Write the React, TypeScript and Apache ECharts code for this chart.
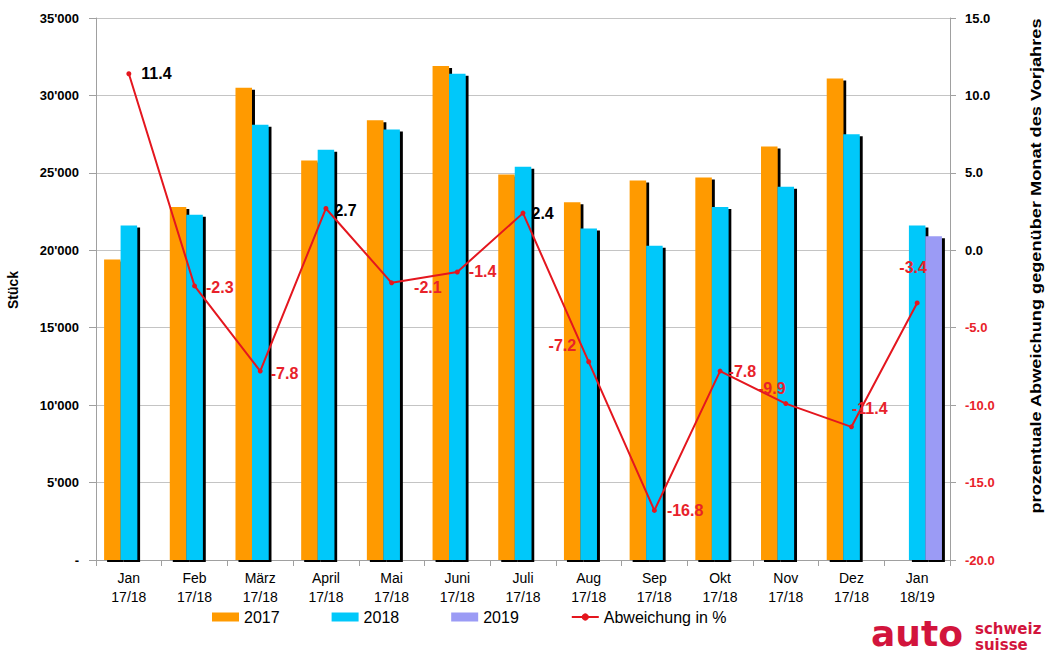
import React, { useEffect, useRef } from "react";
import * as echarts from "echarts";

const categories = [
  "Jan\n17/18", "Feb\n17/18", "März\n17/18", "April\n17/18", "Mai\n17/18", "Juni\n17/18",
  "Juli\n17/18", "Aug\n17/18", "Sep\n17/18", "Okt\n17/18", "Nov\n17/18", "Dez\n17/18", "Jan\n18/19",
];
const values2017 = [19400, 22800, 30500, 25800, 28400, 31900, 24900, 23100, 24500, 24700, 26700, 31100, null];
const values2018 = [21600, 22300, 28100, 26500, 27800, 31400, 25400, 21400, 20300, 22800, 24100, 27500, 21600];
const values2019 = [null, null, null, null, null, null, null, null, null, null, null, null, 20900];
const deviation = [11.4, -2.3, -7.8, 2.7, -2.1, -1.4, 2.4, -7.2, -16.8, -7.8, -9.9, -11.4, -3.4];
const leftTicks = { min: 0, max: 35000, interval: 5000 };
const rightTicks = { min: -20, max: 15, interval: 5 };

const FONT = "Liberation Sans, Arial, sans-serif";

// label placement tweaks per point (style only)
const labelPlacement: any[] = [
  { position: "right", distance: 10, offset: [0, 0] },
  { position: "right", distance: 9, offset: [0, 2] },
  { position: "right", distance: 8, offset: [0, 2] },
  { position: "right", distance: 6, offset: [0, 2] },
  { position: "right", distance: 20, offset: [0, 5] },
  { position: "right", distance: 9, offset: [0, 0] },
  { position: "right", distance: 6, offset: [0, 0] },
  { position: "left", distance: 10, offset: [0, -16] },
  { position: "right", distance: 10, offset: [0, 0] },
  { position: "right", distance: 6, offset: [0, 0] },
  { position: "top", distance: 5, offset: [-14, 0] },
  { position: "right", distance: 5, offset: [-7, -18] },
  { position: "top", distance: 25, offset: [-4, 0] },
];

const shadow = { shadowColor: "#000", shadowBlur: 0, shadowOffsetX: 3, shadowOffsetY: 2 };

export default function App() {
  const ref = useRef<HTMLDivElement>(null);
  useEffect(() => {
    if (!ref.current) return;
    const chart = echarts.init(ref.current, undefined, { renderer: "svg" });
    chart.setOption({
      animation: false,
      backgroundColor: "#fff",
      textStyle: { fontFamily: FONT },
      grid: { left: 96, right: 104, top: 18, bottom: 93, containLabel: false },
      legend: {
        left: 207,
        top: 604,
        itemWidth: 27,
        itemHeight: 9,
        itemGap: 52,
        textStyle: { fontSize: 16, color: "#000", fontFamily: FONT },
        data: [
          { name: "2017", icon: "rect" },
          { name: "2018", icon: "rect" },
          { name: "2019", icon: "rect" },
          { name: "Abweichung in %" },
        ],
      },
      xAxis: {
        type: "category",
        data: categories,
        axisLine: { lineStyle: { color: "#a0a0a0" } },
        axisTick: { show: true, length: 6, lineStyle: { color: "#a0a0a0" } },
        axisLabel: { color: "#000", fontSize: 14, lineHeight: 19, margin: 8, interval: 0, fontFamily: FONT },
      },
      yAxis: [
        {
          type: "value",
          min: leftTicks.min,
          max: leftTicks.max,
          interval: leftTicks.interval,
          axisLine: { show: true, lineStyle: { color: "#a0a0a0" } },
          axisTick: { show: true, length: 7, lineStyle: { color: "#a0a0a0" } },
          splitLine: { show: true, lineStyle: { color: "#c4c4c4" } },
          axisLabel: {
            color: "#000",
            fontSize: 13,
            fontWeight: "bold",
            margin: 17,
            fontFamily: FONT,
            formatter: (v: number) => (v === 0 ? "-" : `${Math.floor(v / 1000)}'${String(v % 1000).padStart(3, "0")}`),
          },
        },
        {
          type: "value",
          position: "right",
          min: rightTicks.min,
          max: rightTicks.max,
          interval: rightTicks.interval,
          axisLine: { show: true, lineStyle: { color: "#a0a0a0" } },
          axisTick: { show: true, length: 6, lineStyle: { color: "#a0a0a0" } },
          splitLine: { show: false },
          axisLabel: {
            fontSize: 13,
            fontWeight: "bold",
            margin: 15,
            fontFamily: FONT,
            formatter: (v: number) => v.toFixed(1),
            color: (v: any) => (Number(v) < 0 ? "#e8222a" : "#000"),
          },
        },
      ],
      series: [
        {
          name: "2017",
          type: "bar",
          data: values2017,
          barWidth: 16.5,
          barGap: "0%",
          itemStyle: { color: "#ff9a00", ...shadow },
        },
        {
          name: "2018",
          type: "bar",
          data: values2018,
          barWidth: 16.5,
          barGap: "0%",
          itemStyle: { color: "#00c8fa", ...shadow },
        },
        {
          name: "2019",
          type: "bar",
          data: values2019,
          barWidth: 16.5,
          barGap: "0%",
          itemStyle: { color: "#9b9bf5", ...shadow },
        },
        {
          name: "Abweichung in %",
          type: "line",
          yAxisIndex: 1,
          symbol: "circle",
          symbolSize: 5,
          lineStyle: { color: "#e4161e", width: 2 },
          itemStyle: { color: "#e4161e" },
          z: 5,
          data: deviation.map((v, i) => ({
            value: v,
            label: {
              show: true,
              ...labelPlacement[i],
              formatter: (p: any) => Number(p.value).toFixed(1),
              color: v < 0 ? "#e8222a" : "#000",
              fontSize: 16,
              fontWeight: "bold",
              fontFamily: FONT,
            },
          })),
        },
      ],
      graphic: [
        {
          type: "text",
          x: 13,
          y: 290,
          rotation: Math.PI / 2,
          style: {
            text: "Stück",
            font: `bold 14px ${FONT}`,
            fill: "#000",
            align: "center",
            verticalAlign: "middle",
          },
        },
        {
          type: "text",
          x: 1036,
          y: 266,
          rotation: Math.PI / 2,
          scaleX: 1.3,
          style: {
            text: "prozentuale Abweichung gegenüber Monat des Vorjahres",
            font: `bold 14px ${FONT}`,
            fill: "#000",
            align: "center",
            verticalAlign: "middle",
          },
        },
        {
          type: "text",
          x: 871,
          y: 651,
          style: {
            text: "auto",
            font: `bold 36px "DejaVu Sans", ${FONT}`,
            fill: "#d2143c",
            align: "left",
            verticalAlign: "bottom",
          },
        },
        {
          type: "text",
          x: 975,
          y: 621,
          style: {
            text: "schweiz",
            font: `bold 15px "DejaVu Sans", ${FONT}`,
            fill: "#d2143c",
            align: "left",
            verticalAlign: "top",
          },
        },
        {
          type: "text",
          x: 975,
          y: 637,
          style: {
            text: "suisse",
            font: `bold 15px "DejaVu Sans", ${FONT}`,
            fill: "#d2143c",
            align: "left",
            verticalAlign: "top",
          },
        },
      ],
    });
    return () => chart.dispose();
  }, []);
  return <div ref={ref} style={{ width: 1054, height: 653, position: "absolute", left: 0, top: 0 }} />;
}
